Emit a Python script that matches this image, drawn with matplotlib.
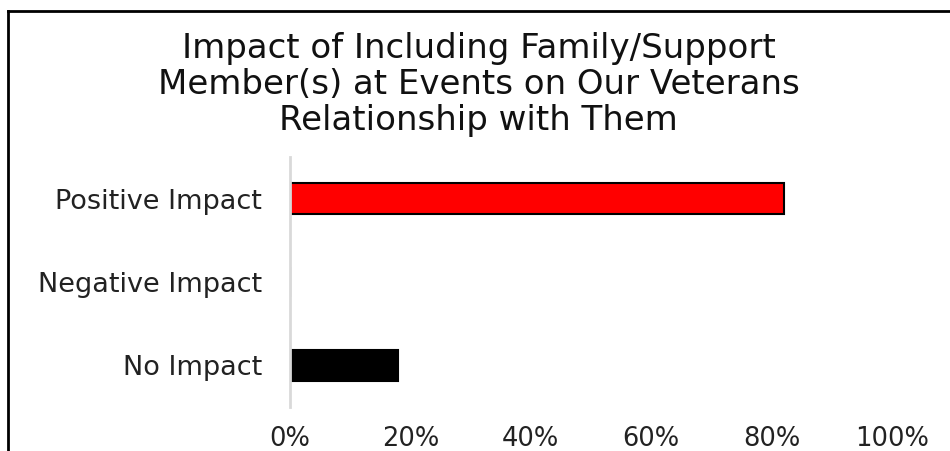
import matplotlib
matplotlib.use('Agg')
import matplotlib.pyplot as plt
from matplotlib.lines import Line2D
from matplotlib.ticker import PercentFormatter

# Data
categories = ['No Impact', 'Negative Impact', 'Positive Impact']
values = [18, 0, 82]
bar_colors = ['#000000', '#000000', '#FF0000']
x_ticks = [0, 20, 40, 60, 80, 100]

title = ('Impact of Including Family/Support\n'
         'Member(s) at Events on Our Veterans\n'
         'Relationship with Them')

plt.rcParams['font.family'] = ['DejaVu Sans']

fig = plt.figure(figsize=(9.5, 4.51), dpi=100)
ax = fig.add_axes([290 / 950, 44 / 451, 602 / 950, 250 / 451])

ax.barh(categories, values, height=0.37, color=bar_colors,
        edgecolor='black', linewidth=1.5)

ax.set_xlim(0, 100)
ax.set_ylim(-0.5, 2.5)
ax.set_xticks(x_ticks)
ax.xaxis.set_major_formatter(PercentFormatter(decimals=0))
ax.tick_params(axis='x', length=0, pad=14, labelsize=18.5, labelcolor='#222222')
ax.tick_params(axis='y', length=0, pad=20, labelsize=19.5, labelcolor='#222222')

for side in ['top', 'right', 'bottom']:
    ax.spines[side].set_visible(False)
ax.spines['left'].set_color('#d9d9d9')
ax.spines['left'].set_linewidth(2)

fig.text(0.504, 0.812, title, ha='center', va='center', fontsize=24.5,
         linespacing=1.12, color='#111111')

# outer frame (only left and top edges visible in the reference)
top_y = 1 - 11 / 451
left_x = 8 / 950
fig.add_artist(Line2D([left_x, left_x], [0, top_y], transform=fig.transFigure,
                      color='black', linewidth=2))
fig.add_artist(Line2D([left_x, 1], [top_y, top_y], transform=fig.transFigure,
                      color='black', linewidth=2))

fig.savefig('out.png', dpi=100)
